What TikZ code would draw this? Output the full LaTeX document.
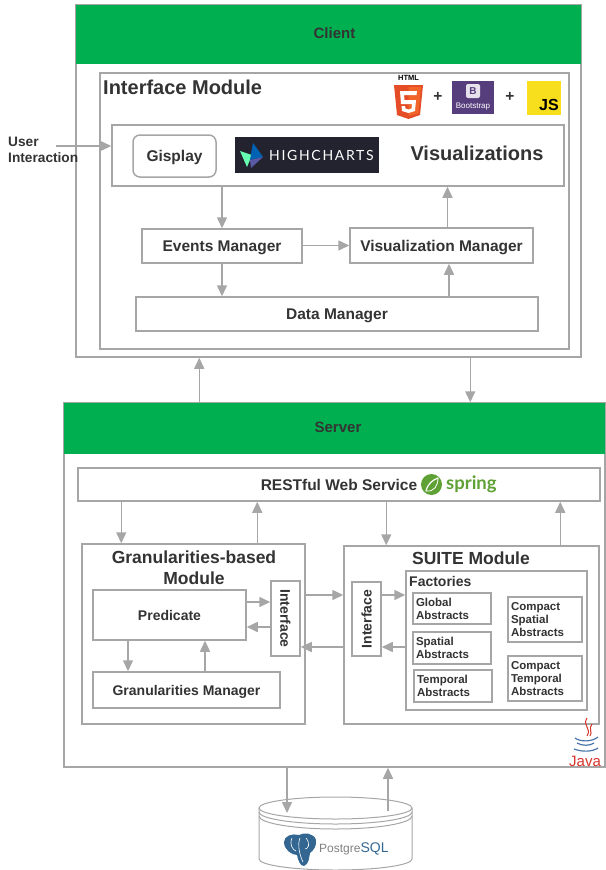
\documentclass[tikz,border=0pt]{standalone}
\usepackage{fontspec}
\setmainfont{Liberation Sans}
\newfontfamily\thinfont[LetterSpace=12]{Lato}
\newfontfamily\springfont{Lato}
\usetikzlibrary{positioning}
\usetikzlibrary{calc}
\usetikzlibrary{arrows.meta}
\definecolor{linegray}{HTML}{A6A6A6}
\definecolor{textgray}{HTML}{333333}
\definecolor{headgreen}{HTML}{00B050}
\definecolor{pgblue}{HTML}{336791}
\definecolor{chartsdark}{HTML}{23232F}
\definecolor{bootpurple}{HTML}{563D7C}
\definecolor{jsyellow}{HTML}{F7DF1E}
\definecolor{springgreen}{HTML}{5FA134}
\definecolor{htmlorange}{HTML}{E44D26}
\definecolor{htmllight}{HTML}{F16529}
\definecolor{javablue}{HTML}{4A76A8}
\definecolor{javared}{HTML}{D8352A}
\begin{document}
\begin{tikzpicture}[x=1pt,y=-1pt,>={Triangle[length=11pt,width=10pt]},font=\bfseries,text=textgray]
	\tikzstyle{box}=[draw=linegray,line width=1.5pt,rectangle,fill=white,inner sep=0pt,align=center]
	\tikzstyle{head}=[rectangle,fill=headgreen,inner sep=0pt]
	\tikzstyle{link}=[->,draw=linegray,line width=1.5pt]
	\tikzstyle{small}=[font=\bfseries\fontsize{15.5}{18}\selectfont,text depth=0pt]
	\tikzstyle{mid}=[font=\bfseries\fontsize{14}{17}\selectfont,text depth=0pt]
	\tikzstyle{tiny}=[font=\bfseries\fontsize{11.5}{13}\selectfont,align=left]
	\tikzstyle{title}=[font=\bfseries\fontsize{17.5}{21}\selectfont,inner sep=0pt,align=center]
	\useasboundingbox (0,0) rectangle (605,870);
	
	\node[box,minimum width=505,minimum height=352] (client) at (328.5,181) {};
	\node[head,minimum width=505,minimum height=59] (clienthead) at (328.5,34.5) {};
	\node[inner sep=0pt,font=\bfseries\fontsize{15}{17}\selectfont] (clienttext) at (334.5,33) {Client};
	\node[box,minimum width=469,minimum height=276] (iface) at (334.5,211) {};
	\node[title,anchor=west,font=\bfseries\fontsize{20}{24}\selectfont] (ifacetitle) at (103,87) {Interface Module};
	\node[box,minimum width=452,minimum height=61] (vis) at (338,155.5) {};
	\node[box,rounded corners=7pt,minimum width=83,minimum height=42,small] (gisplay) at (174.5,156) {Gisplay};
	\node[rectangle,fill=chartsdark,minimum width=144,minimum height=36,inner sep=0pt] (charts) at (307,155) {};
	\node[anchor=west,text=white,inner sep=0pt,font=\thinfont\fontsize{14}{15}\selectfont] (chartstext) at (269,155) {HIGHCHARTS};
	\node[title,font=\bfseries\fontsize{20}{24}\selectfont] (vistitle) at (477,153) {Visualizations};
	\node[box,minimum width=160,minimum height=34,small] (events) at (222,246) {Events Manager};
	\node[box,minimum width=183,minimum height=35,small] (vismgr) at (441.5,245.5) {Visualization Manager};
	\node[box,minimum width=402,minimum height=34,small] (data) at (337,314) {Data Manager};
	\node[anchor=west,align=left,inner sep=0pt,font=\bfseries\fontsize{13.7}{16}\selectfont] (user) at (8,150) {User\\Interaction};
	\coordinate (userout) at (56,146);
	
	\fill[green!50!cyan!60!white] (240,151) -- (252,155) -- (247,167) -- cycle;
	\fill[blue!45!cyan!70!black] (253,143) -- (263,157) -- (250,160) -- cycle;
	\fill[blue!30!gray] (250,160) -- (263,157) -- (251,168) -- cycle;
	
	\fill[htmlorange] (394,85) -- (423,85) -- (420,115) -- (408.5,119) -- (397,115) -- cycle;
	\fill[htmllight] (408.5,87) -- (421,87) -- (418.5,113) -- (408.5,116) -- cycle;
	\fill[white] (400,91) -- (417,91) -- (416.5,95) -- (404,95) -- (404.5,100) -- (416,100) -- (415,111) -- (408.5,113) -- (402,111) -- (401.5,106) -- (405,106) -- (405.5,108.5) -- (408.5,109.5) -- (411.5,108.5) -- (412,104) -- (401,104) -- cycle;
	\node[inner sep=0pt,text=black,font=\bfseries\fontsize{7.5}{9}\selectfont] (htmllabel) at (408.5,78) {HTML};
	\node[inner sep=0pt,small] (plusa) at (438,97) {+};
	\node[rectangle,fill=bootpurple,minimum width=42,minimum height=33,inner sep=0pt] (boot) at (473,97.5) {};
	\node[fill=white,fill opacity=.85,text opacity=1,rounded corners=2pt,minimum size=14,inner sep=0pt,text=bootpurple,font=\bfseries\fontsize{10}{12}\selectfont] (bootb) at (473,91) {B};
	\node[inner sep=0pt,text=white,font=\mdseries\fontsize{8}{9}\selectfont] (bootlabel) at (473,107) {Bootstrap};
	\node[inner sep=0pt,small] (plusb) at (510,97) {+};
	\node[rectangle,fill=jsyellow,minimum width=34,minimum height=34,inner sep=0pt] (js) at (544,98) {};
	\node[inner sep=0pt,text=black,font=\bfseries\fontsize{16}{18}\selectfont] (jslabel) at (549,105) {JS};
	
	\node[box,minimum width=541,minimum height=364] (server) at (334.5,585) {};
	\node[head,minimum width=541,minimum height=51] (serverhead) at (334.5,428.5) {};
	\node[inner sep=0pt,font=\bfseries\fontsize{15}{17}\selectfont] (servertext) at (338,427) {Server};
	\node[box,minimum width=522,minimum height=33] (rest) at (339,484.5) {};
	\node[inner sep=0pt,small] (resttext) at (339,484.5) {RESTful Web Service};
	\fill[springgreen] (431.5,484.5) circle (10.5);
	\draw[white,line width=1.2pt,line cap=round] (426,491) .. controls (428,483) and (433,480) .. (438,478);
	\draw[white,line width=.8pt] (426,491) .. controls (434,492) and (438,486) .. (438,478);
	\node[anchor=west,inner sep=0pt,text=springgreen,font=\springfont\bfseries\fontsize{18.5}{20}\selectfont] (springlabel) at (446,484) {spring};
	
	\node[box,minimum width=223,minimum height=180] (gran) at (193.5,634) {};
	\node[title] (grantitle) at (194,568) {Granularities-based\\Module};
	\node[box,minimum width=153,minimum height=50,mid] (pred) at (169.5,615) {Predicate};
	\node[box,minimum width=29,minimum height=75] (ifa) at (285.5,618.5) {};
	\node[rotate=-90,inner sep=0pt,mid] (ifatext) at (285.5,618.5) {Interface};
	\node[box,minimum width=187,minimum height=36,mid] (granmgr) at (186.5,690) {Granularities Manager};
	
	\node[box,minimum width=255,minimum height=178] (suite) at (471.5,635) {};
	\node[title] (suitetitle) at (471,558) {SUITE Module};
	\node[box,minimum width=29,minimum height=74] (ifb) at (366.5,619) {};
	\node[rotate=90,inner sep=0pt,mid] (ifbtext) at (366.5,619) {Interface};
	\node[box,minimum width=181,minimum height=139] (fact) at (496.5,640.5) {};
	\node[anchor=west,inner sep=0pt,font=\bfseries\fontsize{14}{16}\selectfont] (facttitle) at (409,581) {Factories};
	\node[box,tiny,minimum width=78,minimum height=31,text width=72] (global) at (452,608.5) {Global\\Abstracts};
	\node[box,tiny,minimum width=78,minimum height=32,text width=72] (spatial) at (452,648) {Spatial\\Abstracts};
	\node[box,tiny,minimum width=78,minimum height=32,text width=72] (temporal) at (453,686) {Temporal\\Abstracts};
	\node[box,tiny,minimum width=74,minimum height=45,text width=68] (cspatial) at (545,619.5) {Compact\\Spatial\\Abstracts};
	\node[box,tiny,minimum width=74,minimum height=45,text width=68] (ctemporal) at (545,678.5) {Compact\\Temporal\\Abstracts};
	
	\draw[javared,line width=1pt] (587,718) .. controls (582,726) and (592,728) .. (587,736);
	\draw[javared,line width=1pt] (592,724) .. controls (588,729) and (593,732) .. (590,736);
	\draw[javablue,line width=1.2pt] (575,738) .. controls (580,742) and (592,742) .. (598,737);
	\draw[javablue,line width=1.2pt] (577,743) .. controls (582,746) and (590,746) .. (594,743);
	\draw[javablue,line width=1.2pt] (574,749) .. controls (582,752) and (592,752) .. (598,748);
	\node[inner sep=0pt,text=javared,font=\mdseries\fontsize{15}{16}\selectfont] (javalabel) at (585,761) {Java};
	
	\draw[linegray,line width=1pt,fill=white] (259,808) arc[start angle=180,end angle=0,x radius=76.5,y radius=11] arc[start angle=0,end angle=-180,x radius=76.5,y radius=11] -- cycle;
	\draw[linegray,line width=1pt] (259,808) -- (259,859) arc[start angle=180,end angle=0,x radius=76.5,y radius=11] -- (412,808);
	\draw[linegray,line width=1pt] (259,812) arc[start angle=180,end angle=0,x radius=76.5,y radius=12];
	\draw[linegray,line width=1pt] (259,816) arc[start angle=180,end angle=0,x radius=76.5,y radius=13];
	\fill[pgblue] (284,842) .. controls (284,836) and (292,833) .. (299,835) .. controls (304,832) and (314,833) .. (316,840) .. controls (317,846) and (313,851) .. (310,853) .. controls (309,858) and (309,864) .. (304,866) .. controls (300,866) and (298,860) .. (297,855) .. controls (292,855) and (284,850) .. (284,842) -- cycle;
	\draw[white,line width=.6pt] (292,838) .. controls (289,845) and (293,850) .. (296,851) (300,838) .. controls (297,845) and (300,856) .. (303,862) (306,838) .. controls (311,844) and (308,849) .. (305,849);
	\node[anchor=west,inner sep=0pt,text=gray,font=\fontsize{12}{15}\mdseries\selectfont] (pglabel) at (319,849) {Postgre\textcolor{pgblue}{\fontsize{14}{15}\selectfont SQL}};
	
	\draw[link] (userout) -- ([yshift=9.5pt]vis.west);
	\draw[link] (vis.south -| events.north) -- (events.north);
	\draw[link] ([xshift=6pt]vismgr.north) -- ([xshift=6pt]vismgr.north |- vis.south);
	\draw[link] (events.east |- vismgr.west) -- (vismgr.west);
	\draw[link] (events.south) -- (events.south |- data.north);
	\draw[link] ([xshift=7.5pt]vismgr.south |- data.north) -- ([xshift=7.5pt]vismgr.south);
	\draw[link] ([xshift=136pt]server.north west) -- ([xshift=124pt]client.south west);
	\draw[link] ([xshift=395pt]client.south west) -- ([xshift=407pt]server.north west);
	
	\draw[link] ([xshift=44pt]rest.south west) -- ([xshift=40pt]gran.north west);
	\draw[link] ([xshift=176pt]gran.north west) -- ([xshift=180pt]rest.south west);
	\draw[link] ([xshift=309pt]rest.south west) -- ([xshift=43pt]suite.north west);
	\draw[link] ([xshift=217pt]suite.north west) -- ([xshift=483pt]rest.south west);
	\draw[link] ([yshift=13pt]pred.east) -- ([yshift=13pt]pred.east -| ifa.west);
	\draw[link] ([yshift=-12pt]pred.east -| ifa.west) -- ([yshift=-12pt]pred.east);
	\draw[link] ([xshift=-41.5pt]pred.south) -- ([xshift=-58.5pt]granmgr.north);
	\draw[link] ([xshift=18.5pt]granmgr.north) -- ([xshift=35.5pt]pred.south);
	\draw[link] ([yshift=39pt]gran.east) -- ([yshift=40pt]suite.west);
	\draw[link] ([yshift=-12pt]suite.west) -- ([yshift=-28.5pt]ifa.east);
	\draw[link] ([yshift=24pt]ifb.east) -- ([yshift=45.5pt]fact.west);
	\draw[link] ([yshift=-6.5pt]fact.west) -- ([yshift=-28pt]ifb.east);
	
	\coordinate (dbin) at (287,813);
	\coordinate (dbout) at (388,811);
	\draw[link] ([xshift=-47.5pt]server.south) -- (dbin);
	\draw[link] (dbout) -- ([xshift=53.5pt]server.south);
\end{tikzpicture}
\end{document}
